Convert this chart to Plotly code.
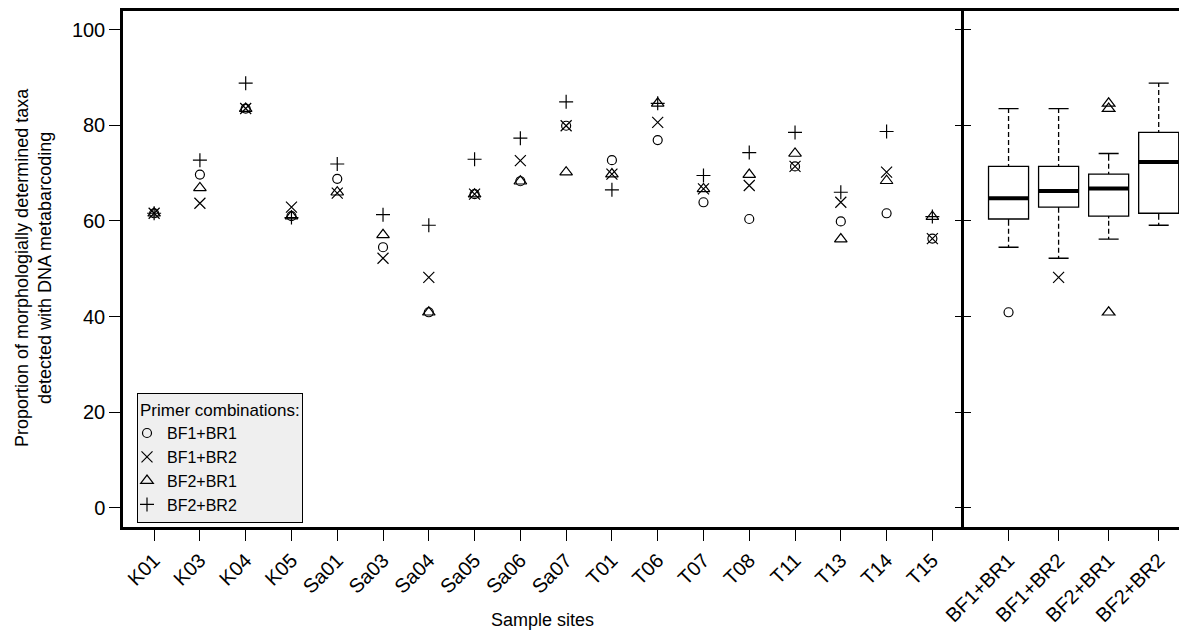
import numpy as np
import plotly.graph_objects as go

# ---------------- data ----------------
sites = ["K01", "K03", "K04", "K05", "Sa01", "Sa03", "Sa04", "Sa05", "Sa06",
         "Sa07", "T01", "T06", "T07", "T08", "T11", "T13", "T14", "T15"]
primers = ["BF1+BR1", "BF1+BR2", "BF2+BR1", "BF2+BR2"]

bf1_br1 = [61.6, 69.7, 83.5, 61.0, 68.8, 54.5, 40.9, 65.6, 68.3,
           79.9, 72.7, 76.9, 63.9, 60.4, 71.4, 59.9, 61.6, 56.3]
bf1_br2 = [61.6, 63.7, 83.5, 62.9, 65.8, 52.2, 48.2, 65.6, 72.6,
           79.9, 69.8, 80.6, 66.7, 67.4, 71.4, 63.9, 70.2, 56.3]
bf2_br1 = [61.6, 66.9, 83.5, 61.0, 66.0, 57.1, 40.9, 65.6, 68.3,
           70.2, 69.8, 84.6, 66.7, 69.7, 74.1, 56.2, 68.4, 60.9]
bf2_br2 = [61.6, 72.7, 88.8, 60.7, 71.9, 61.3, 59.1, 72.9, 77.3,
           84.9, 66.5, 84.6, 69.5, 74.3, 78.5, 66.0, 78.7, 60.9]

y_ticks = [0, 20, 40, 60, 80, 100]

series = [bf1_br1, bf1_br2, bf2_br1, bf2_br2]
symbols = ["circle-open", "x-thin-open", "triangle-up-open", "cross-thin-open"]
sizes = [9, 11, 11, 10]

# ---------------- layout geometry ----------------
W, H = 1187, 639
OFF = 8  # page body margin
FONT = "Liberation Sans, Arial, Helvetica, sans-serif"


def px_x(p):
    return (p - OFF) / W


def px_y(p):
    return (H - (p - OFF)) / H


xl0, xl1 = px_x(123), px_x(963.5)
yb, yt = px_y(527), px_y(10.5)


def interp(arr, p):
    n = p * len(arr) - 0.5
    if n <= 0:
        return arr[0]
    if n >= len(arr) - 1:
        return arr[-1]
    i = int(np.floor(n))
    f = n - i
    return arr[i] + f * (arr[i + 1] - arr[i])


def box_stats(vals):
    s = np.sort(np.asarray(vals, dtype=float))
    q1, med, q3 = interp(s, 0.25), interp(s, 0.5), interp(s, 0.75)
    iqr = q3 - q1
    lo = s[s >= q1 - 1.5 * iqr].min()
    hi = s[s <= q3 + 1.5 * iqr].max()
    return q1, med, q3, lo, hi


fig = go.Figure()

# scatter panel
for name, vals, sym, sz in zip(primers, series, symbols, sizes):
    fig.add_trace(go.Scatter(
        x=sites, y=vals, mode="markers", name=name,
        marker=dict(symbol=sym, size=sz, color="black",
                    line=dict(width=1.2, color="black")),
        xaxis="x", yaxis="y", hoverinfo="skip"))

# box panel
for i, (name, vals, sym, sz) in enumerate(zip(primers, series, symbols, sizes)):
    fig.add_trace(go.Box(
        x=[i] * len(vals), y=vals, name=name, xaxis="x2", yaxis="y2",
        width=0.8, whiskerwidth=0.5, boxpoints="outliers", jitter=0, pointpos=0,
        fillcolor="white", line=dict(color="black", width=1.3),
        marker=dict(symbol=sym, size=sz, color="black",
                    line=dict(width=1.2, color="black")),
        showlegend=False, hoverinfo="skip"))

for i, vals in enumerate(series):
    q1, med, q3, lo, hi = box_stats(vals)
    # dashed whiskers (white dashes over the solid whisker)
    for ya, yb_ in [(q3 + 0.5, hi - 0.5), (lo + 0.5, q1 - 0.5)]:
        if yb_ > ya:
            fig.add_trace(go.Scatter(
                x=[i, i], y=[ya, yb_], mode="lines",
                line=dict(color="white", width=3, dash="3px,5px"),
                xaxis="x2", yaxis="y2", showlegend=False, hoverinfo="skip"))
    # thick median
    fig.add_trace(go.Scatter(
        x=[i - 0.4, i + 0.4], y=[med, med], mode="lines",
        line=dict(color="black", width=4),
        xaxis="x2", yaxis="y2", showlegend=False, hoverinfo="skip"))

# dummy trace for the inward tick axis
fig.add_trace(go.Scatter(x=[None], y=[None], xaxis="x2", yaxis="y3",
                         showlegend=False, hoverinfo="skip"))

TICKFONT = dict(size=20, family=FONT, color="black")
axis_common = dict(showgrid=False, zeroline=False, tickcolor="black",
                   tickwidth=1.3, linecolor="black", linewidth=2.5,
                   automargin=False, tickfont=TICKFONT)

fig.update_layout(
    width=W, height=H,
    margin=dict(l=0, r=0, t=0, b=0, autoexpand=False),
    paper_bgcolor="white", plot_bgcolor="white",
    font=dict(family=FONT, color="black", size=18),
    boxmode="overlay",
    xaxis=dict(domain=[xl0, xl1], type="category", range=[-0.68, 17.68],
               tickmode="array", tickvals=sites, ticktext=sites,
               ticks="outside", ticklen=11, tickangle=-45,
               showline=True, mirror=True, anchor="y", **axis_common),
    yaxis=dict(domain=[yb, yt], range=[-4, 104], tickmode="array",
               tickvals=y_ticks, ticks="outside", ticklen=11,
               showline=True, mirror=False, anchor="x", **axis_common),
    xaxis2=dict(domain=[xl1, 1.0], range=[-0.9, 3.567 + OFF / 50.55],
                tickmode="array",
                tickvals=[0, 1, 2, 3], ticktext=primers,
                ticks="outside", ticklen=11, tickangle=-45,
                showline=True, mirror=True, anchor="y2", **axis_common),
    yaxis2=dict(domain=[yb, yt], range=[-4, 104], tickmode="array",
                tickvals=y_ticks, ticks="outside", ticklen=6,
                showticklabels=False, showline=True, anchor="x2", **axis_common),
    yaxis3=dict(range=[-4, 104], overlaying="y2", anchor="x2", side="left",
                tickmode="array", tickvals=y_ticks, ticks="inside", ticklen=7,
                showticklabels=False, showline=False, showgrid=False,
                automargin=False,
                zeroline=False, tickcolor="black", tickwidth=1.3),
    legend=dict(x=px_x(137), y=px_y(393), xanchor="left", yanchor="top",
                bgcolor="#efefef", bordercolor="black", borderwidth=1,
                font=dict(size=16, family=FONT, color="black"),
                title=dict(text="Primer combinations:",
                           font=dict(size=17, family=FONT, color="black")),
                itemwidth=30, tracegroupgap=0, indentation=-11),
    annotations=[
        dict(text="Proportion of morphologially determined taxa<br>detected with DNA metabarcoding",
             x=px_x(33), y=px_y(268), xref="paper", yref="paper",
             textangle=-90, showarrow=False, xanchor="center", yanchor="middle",
             font=dict(size=18, family=FONT, color="black")),
        dict(text="Sample sites", x=px_x(542.5), y=px_y(620),
             xref="paper", yref="paper", showarrow=False,
             xanchor="center", yanchor="middle",
             font=dict(size=18, family=FONT, color="black")),
    ],
)

fig.write_html("out.html")
